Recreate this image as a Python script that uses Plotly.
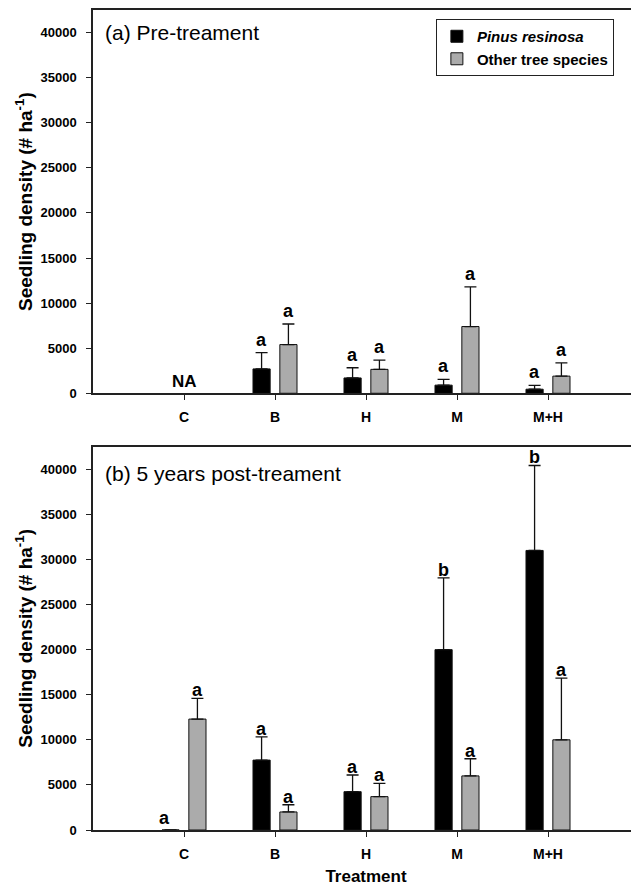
import plotly.graph_objects as go

categories = ["C", "B", "H", "M", "M+H"]
y_ticks = [0, 5000, 10000, 15000, 20000, 25000, 30000, 35000, 40000]

# (a) Pre-treatment
pre_pinus = [None, 2700, 1700, 900, 450]
pre_pinus_se = [None, 1800, 1130, 630, 430]
pre_other = [None, 5400, 2650, 7400, 1900]
pre_other_se = [None, 2280, 1030, 4400, 1470]
pre_pinus_letters = ["NA", "a", "a", "a", "a"]
pre_other_letters = ["", "a", "a", "a", "a"]

# (b) 5 years post-treatment
post_pinus = [0, 7750, 4250, 20000, 31000]
post_pinus_se = [0, 2580, 1850, 7950, 9420]
post_other = [12300, 2000, 3700, 6000, 10000]
post_other_se = [2300, 800, 1480, 1900, 6830]
post_pinus_letters = ["a", "a", "a", "b", "b"]
post_other_letters = ["a", "a", "a", "a", "a"]

BLACK = "#000000"
GRAY = "#ababab"
FONT = "Liberation Sans, Arial, sans-serif"
BARGAP = 0.41
BARGROUPGAP = 0.36
OFF = (1 - BARGAP) / 4  # centre offset of each bar in a group

xpos = list(range(len(categories)))

fig = go.Figure()


def add_bars(vals, se, color, name, xa, ya, showlegend):
    fig.add_trace(go.Bar(
        x=xpos, y=vals, name=name, xaxis=xa, yaxis=ya,
        marker=dict(color=color, line=dict(color="#111111", width=1)),
        error_y=dict(type="data", symmetric=False, array=se,
                     arrayminus=[0] * len(se), color="#111111",
                     thickness=1.3, width=6),
        showlegend=showlegend, legendgroup=name,
    ))


add_bars(pre_pinus, pre_pinus_se, BLACK, "<i>Pinus resinosa</i>", "x", "y", True)
add_bars(pre_other, pre_other_se, GRAY, "Other tree species", "x", "y", True)
add_bars(post_pinus, post_pinus_se, BLACK, "<i>Pinus resinosa</i>", "x2", "y2", False)
add_bars(post_other, post_other_se, GRAY, "Other tree species", "x2", "y2", False)

annotations = []


def letters(vals, se, labs, offset, xr, yr, shift):
    for i, (v, s, lab) in enumerate(zip(vals, se, labs)):
        if not lab:
            continue
        if lab == "NA":
            annotations.append(dict(x=i, y=0, xref=xr, yref=yr, text="<b>NA</b>",
                                    showarrow=False, yanchor="bottom",
                                    font=dict(family=FONT, size=17, color="black")))
            continue
        top = (v or 0) + (s or 0)
        ys = shift if top > 0 else 0
        xs = -6 if top == 0 else 0
        annotations.append(dict(x=i + offset, y=top, xref=xr, yref=yr,
                                text="<b>%s</b>" % lab, showarrow=False,
                                yanchor="bottom", yshift=ys, xshift=xs,
                                font=dict(family=FONT, size=18, color="black")))


letters(pre_pinus, pre_pinus_se, pre_pinus_letters, -OFF, "x", "y", 1)
letters(pre_other, pre_other_se, pre_other_letters, OFF, "x", "y", 1)
letters(post_pinus, post_pinus_se, post_pinus_letters, -OFF, "x2", "y2", -4)
letters(post_other, post_other_se, post_other_letters, OFF, "x2", "y2", -4)

annotations.append(dict(x=0.018, y=0.94, xref="x domain", yref="y domain",
                        text="(a) Pre-treament", showarrow=False,
                        xanchor="left", yanchor="middle",
                        font=dict(family=FONT, size=21, color="black")))
annotations.append(dict(x=0.018, y=0.931, xref="x2 domain", yref="y2 domain",
                        text="(b) 5 years post-treament", showarrow=False,
                        xanchor="left", yanchor="middle",
                        font=dict(family=FONT, size=21, color="black")))

LINE = "#222222"
xcommon = dict(range=[-1, 5], tickvals=xpos, ticktext=categories,
               ticks="outside", ticklen=5, tickcolor=LINE, tickwidth=1.3,
               showline=True, linecolor=LINE, linewidth=1.5, mirror=True,
               showgrid=False, zeroline=False, automargin=False,
               ticklabelstandoff=5,
               tickfont=dict(family=FONT, size=14, color="black", weight="bold"))
ycommon = dict(range=[0, 42500], tickvals=y_ticks, tickformat="d",
               ticks="outside", ticklen=5, tickcolor=LINE, tickwidth=1.3,
               showline=True, linecolor=LINE, linewidth=1.5, mirror=False,
               showgrid=False, zeroline=False, automargin=False,
               ticklabelstandoff=7,
               tickfont=dict(family=FONT, size=13, color="black", weight="bold"),
               title=dict(text="Seedling density (# ha<sup>-1</sup>)", standoff=3,
                          font=dict(family=FONT, size=19, color="black", weight="bold")))

fig.update_layout(
    autosize=False,
    width=631, height=880,
    margin=dict(l=85, r=0, t=2, b=58),
    paper_bgcolor="white", plot_bgcolor="white",
    barmode="group", bargap=BARGAP, bargroupgap=BARGROUPGAP,
    xaxis=dict(**xcommon, anchor="y", domain=[0, 1]),
    yaxis=dict(**ycommon, anchor="x", domain=[0.5326, 1.0]),
    xaxis2=dict(**xcommon, anchor="y2", domain=[0, 1],
                title=dict(text="Treatment", standoff=10,
                           font=dict(family=FONT, size=17, color="black", weight="bold"))),
    yaxis2=dict(**ycommon, anchor="x2", domain=[0, 0.4674]),
    legend=dict(x=0.628, y=0.989, xanchor="left", yanchor="top",
                bordercolor="#222222", borderwidth=1, bgcolor="white",
                font=dict(family=FONT, size=15, color="black", weight="bold"),
                traceorder="normal"),
    annotations=annotations,
    font=dict(family=FONT),
)

fig.write_html("out.html")
